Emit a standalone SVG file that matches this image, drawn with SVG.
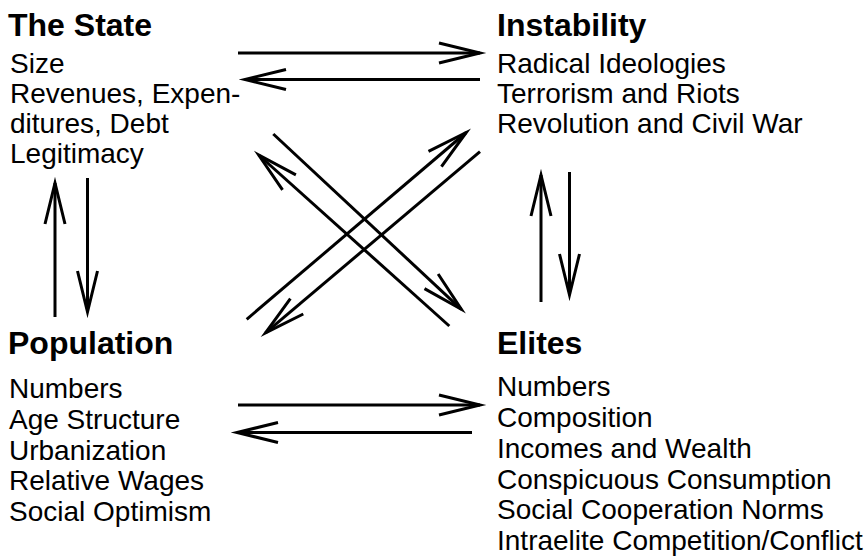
<svg xmlns="http://www.w3.org/2000/svg" width="868" height="559" viewBox="0 0 868 559">
<style>
text{font-family:"Liberation Sans",Arial,sans-serif;fill:#000}
.t{font-size:32px;font-weight:bold}
.b{font-size:28px}
.c line{stroke:#000;stroke-width:3;fill:none;marker-end:url(#ah)}
</style>
<defs>
<marker id="ah" markerUnits="userSpaceOnUse" refX="0" refY="0" orient="auto" overflow="visible">
<path d="M-41,-10 L0,0 L-41,10" fill="none" stroke="#000" stroke-width="3" stroke-linejoin="miter" stroke-miterlimit="10"/>
</marker>
</defs>
<rect width="868" height="559" fill="#fff"/>
<g id="state">
<text class="t" x="8" y="36">The State</text>
<text class="b" x="10" y="73">Size</text>
<text class="b" x="10" y="103">Revenues, Expen-</text>
<text class="b" x="10" y="133">ditures, Debt</text>
<text class="b" x="10" y="163">Legitimacy</text>
</g>
<g id="instability">
<text class="t" x="497" y="36">Instability</text>
<text class="b" x="497" y="73">Radical Ideologies</text>
<text class="b" x="497" y="103">Terrorism and Riots</text>
<text class="b" x="497" y="133">Revolution and Civil War</text>
</g>
<g id="population">
<text class="t" x="8" y="354">Population</text>
<text class="b" x="9" y="398">Numbers</text>
<text class="b" x="9" y="429">Age Structure</text>
<text class="b" x="9" y="459.5">Urbanization</text>
<text class="b" x="9" y="490">Relative Wages</text>
<text class="b" x="9" y="520.5">Social Optimism</text>
</g>
<g id="elites">
<text class="t" x="497" y="354">Elites</text>
<text class="b" x="497" y="396">Numbers</text>
<text class="b" x="497" y="427">Composition</text>
<text class="b" x="497" y="457.5">Incomes and Wealth</text>
<text class="b" x="497" y="488.5">Conspicuous Consumption</text>
<text class="b" x="497" y="519">Social Cooperation Norms</text>
<text class="b" x="497" y="550">Intraelite Competition/Conflict</text>
</g>
<g id="connectors" class="c">
<line x1="238" y1="53" x2="480" y2="53"/>
<line x1="480" y1="79.5" x2="245" y2="79.5"/>
<line x1="55" y1="317" x2="55" y2="183"/>
<line x1="87.5" y1="178" x2="87.5" y2="312"/>
<line x1="541" y1="302" x2="541" y2="175"/>
<line x1="569.5" y1="172" x2="569.5" y2="295"/>
<line x1="238" y1="405" x2="480" y2="405"/>
<line x1="472" y1="432.5" x2="237" y2="432.5"/>
<line x1="246.7" y1="319.3" x2="466.2" y2="132.5"/>
<line x1="480" y1="151.7" x2="265.5" y2="332.8"/>
<line x1="273.3" y1="134" x2="461.3" y2="309.3"/>
<line x1="449.3" y1="326" x2="258.7" y2="155"/>
</g>
</svg>
